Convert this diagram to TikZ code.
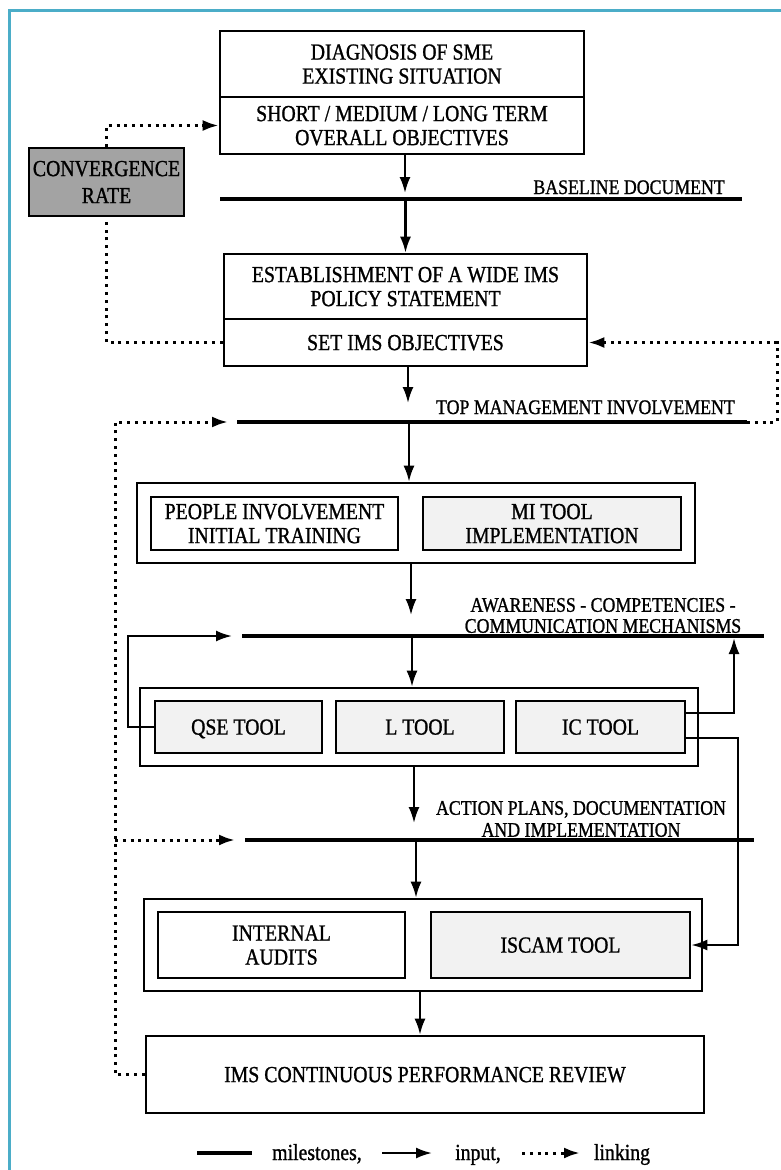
\documentclass[tikz,border=0pt]{standalone}
\usepackage{fontspec}
\setmainfont{Liberation Serif}[FakeStretch=0.86, FakeBold=1.0]
\usetikzlibrary{arrows.meta}
\definecolor{frameteal}{HTML}{4BADC8}
\definecolor{convgray}{gray}{0.64}
\definecolor{toolgray}{gray}{0.95}
\begin{document}
\begin{tikzpicture}[x=1pt,y=-1pt,
  txt/.style={font=\fontsize{23}{24}\selectfont, inner sep=0pt, align=center},
  lbl/.style={font=\fontsize{20.7}{21}\selectfont, inner sep=0pt, align=center},
  box/.style={txt, draw, line width=2.6pt, text depth=-5pt},
  tool/.style={fill=toolgray},
  milestone/.style={line width=4.8pt},
  input/.style={-{Latex[length=16pt,width=11pt]}, line width=2.2pt},
  link/.style={-{Latex[length=16pt,width=11pt]}, line width=3pt,
    dash pattern=on 3pt off 4.8pt},
]
\useasboundingbox (0,0) rectangle (780,1170);
\fill[white] (0,0) rectangle (780,1170);

% page frame
\draw[frameteal, line width=3pt] (9,1172) -- (9,10) -- (782,10);

% main process boxes
\node[box, minimum width=364pt, minimum height=66pt] (diag) at (402,64)
  {DIAGNOSIS OF SME\\EXISTING SITUATION};
\node[box, minimum width=364pt, minimum height=57pt] (obj) at (402,125.5)
  {SHORT / MEDIUM / LONG TERM\\OVERALL OBJECTIVES};
\node[box, fill=convgray, minimum width=155pt, minimum height=68pt,
  font=\fontsize{23}{27}\selectfont] (conv) at (106.5,182) {CONVERGENCE\\RATE};
\node[box, minimum width=363pt, minimum height=65pt] (pol) at (405.5,286.5)
  {ESTABLISHMENT OF A WIDE IMS\\POLICY STATEMENT};
\node[box, minimum width=363pt, minimum height=47pt] (setobj) at (405.5,342.5)
  {SET IMS OBJECTIVES};

\node[box, minimum width=558pt, minimum height=80pt] (grp1) at (416,523) {};
\node[box, minimum width=247pt, minimum height=53pt] (people) at (274.5,523.5)
  {PEOPLE INVOLVEMENT\\INITIAL TRAINING};
\node[box, tool, minimum width=258pt, minimum height=53pt] (mitool) at (552,523.5)
  {MI TOOL\\IMPLEMENTATION};

\node[box, minimum width=558pt, minimum height=78pt] (grp2) at (419,727) {};
\node[box, tool, minimum width=167pt, minimum height=52pt] (qse) at (238.5,727) {QSE TOOL};
\node[box, tool, minimum width=168pt, minimum height=52pt] (ltool) at (420,727) {L TOOL};
\node[box, tool, minimum width=169pt, minimum height=52pt] (ictool) at (600.5,727) {IC TOOL};

\node[box, minimum width=558pt, minimum height=92pt] (grp3) at (423,945) {};
\node[box, minimum width=247pt, minimum height=66pt] (audits) at (281.5,945)
  {INTERNAL\\AUDITS};
\node[box, tool, minimum width=259pt, minimum height=66pt] (iscam) at (560.5,945)
  {ISCAM TOOL};

\node[box, minimum width=558pt, minimum height=77pt] (review) at (425,1074.5)
  {IMS CONTINUOUS PERFORMANCE REVIEW};

% milestone bars
\coordinate (m1w) at (220,199); \coordinate (m1e) at (742,199);
\coordinate (m2w) at (237,422); \coordinate (m2e) at (747,422);
\coordinate (m3w) at (242,636); \coordinate (m3e) at (764,636);
\coordinate (m4w) at (245,840); \coordinate (m4e) at (754,840);
\draw[milestone] (m1w) -- (m1e);
\draw[milestone] (m2w) -- (m2e);
\draw[milestone] (m3w) -- (m3e);
\draw[milestone] (m4w) -- (m4e);

\node[lbl, anchor=base east] (lblbase) at (725,194) {BASELINE DOCUMENT};
\node[lbl, anchor=base east] (lbltop) at (735,414) {TOP MANAGEMENT INVOLVEMENT};
\node[lbl] (lblaware) at (603,615.5)
  {AWARENESS - COMPETENCIES -\\COMMUNICATION MECHANISMS};
\node[lbl, font=\fontsize{20.7}{22}\selectfont] (lblaction) at (581,819)
  {ACTION PLANS, DOCUMENTATION\\AND IMPLEMENTATION};

% input flow down the main column
\draw[input, shorten >=6pt] ([xshift=3pt]obj.south) -- ([xshift=3pt]obj.south |- m1w);
\draw[input] (pol.north |- m1w) -- (pol.north);
\draw[input, shorten >=19pt] ([xshift=2.5pt]setobj.south) -- ([xshift=2.5pt]setobj.south |- m2w);
\draw[input] ([xshift=-7pt]grp1.north |- m2w) -- ([xshift=-7pt]grp1.north);
\draw[input, shorten >=21pt] ([xshift=-5pt]grp1.south) -- ([xshift=-5pt]grp1.south |- m3w);
\draw[input] ([xshift=-7pt]grp2.north |- m3w) -- ([xshift=-7pt]grp2.north);
\draw[input, shorten >=17pt] ([xshift=-5pt]grp2.south) -- ([xshift=-5pt]grp2.south |- m4w);
\draw[input] ([xshift=-7pt]grp3.north |- m4w) -- ([xshift=-7pt]grp3.north);
\draw[input] ([xshift=-5pt]review.north |- grp3.south) -- ([xshift=-5pt]review.north);

% tool feedback loops
\coordinate (qsebend) at (128,636);
\coordinate (icup) at (734,636);
\coordinate (icdown) at (738,945);
\draw[input, shorten >=10pt] (qse.west) -| (qsebend) -- (m3w);
\draw[input, shorten >=2pt] ([yshift=14pt]ictool.east) -| (icup);
\draw[input] ([yshift=-11pt]ictool.east) -| (icdown) -- (iscam.east);

% linking paths
\coordinate (rightloop) at (777,422);
\coordinate (leftloop) at (115,422);
\coordinate (leftbranch) at (115,840);
\draw[link, -] (setobj.west) -| (conv.south);
\draw[link] (conv.north) |- (obj.west);
\draw[link] (m2e) -- (rightloop) |- (setobj.east);
\draw[link, shorten >=9pt] (review.west) -| (leftloop) -- (m2w);
\draw[link, shorten >=10pt] (leftbranch) -- (m4w);

% legend
\coordinate (lgA) at (197,1153); \coordinate (lgB) at (252,1153);
\coordinate (lgC) at (382,1153); \coordinate (lgD) at (432,1153);
\coordinate (lgE) at (522,1153); \coordinate (lgF) at (580,1153);
\draw[milestone] (lgA) -- (lgB);
\node[txt, anchor=base] (lgmile) at (317,1160) {milestones,};
\draw[input] (lgC) -- (lgD);
\node[txt, anchor=base] (lginput) at (478,1160) {input,};
\draw[link] (lgE) -- (lgF);
\node[txt, anchor=base] (lglink) at (622,1160) {linking};
\end{tikzpicture}
\end{document}
